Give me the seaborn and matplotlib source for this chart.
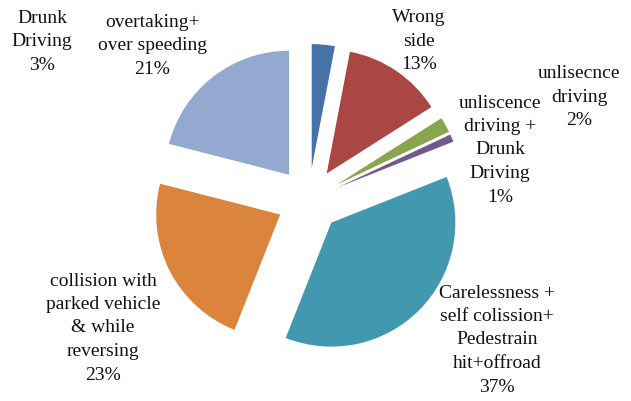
import matplotlib
matplotlib.use("Agg")
import matplotlib.pyplot as plt
import seaborn as sns

categories = [
    "Drunk\nDriving",
    "Wrong\nside",
    "unlisecnce\ndriving",
    "unliscence\ndriving +\nDrunk\nDriving",
    "Carelessness +\nself colission+\nPedestrain\nhit+offroad",
    "collision with\nparked vehicle\n& while\nreversing",
    "overtaking+\nover speeding",
]
percent = [3, 13, 2, 1, 37, 23, 21]
hex_colors = ["#4572A7", "#AA4643", "#89A54E", "#71588F", "#4198AF", "#DB843D", "#93A9CF"]

# label centres in pixel coordinates (x from left, y from top)
label_pos = [(42, 42), (419, 41), (579, 97), (500, 150), (497, 340), (103, 328), (152, 46)]

sns.set_theme(style="white")
plt.rcParams["font.family"] = ["Liberation Serif", "DejaVu Serif"]

W, H = 631, 401
fig = plt.figure(figsize=(W / 100, H / 100), dpi=100)
ax = fig.add_axes([0, 0, 1, 1])

palette = sns.color_palette(hex_colors)
cx, cy = 308.7, H - 200
radius = 124
wedges, _ = ax.pie(
    percent,
    colors=palette,
    startangle=90,
    counterclock=False,
    radius=radius,
    center=(cx, cy),
    explode=[32] * len(percent),
    wedgeprops=dict(linewidth=0),
    frame=True,
)
ax.set_xlim(0, W)
ax.set_ylim(0, H)
ax.set_aspect("equal")
ax.axis("off")

for cat, p, (lx, ly) in zip(categories, percent, label_pos):
    ax.text(lx, H - ly, f"{cat}\n{p}%", ha="center", va="center",
            fontsize=14, color="#111111", linespacing=1.5)

fig.savefig("out.png", dpi=100)
